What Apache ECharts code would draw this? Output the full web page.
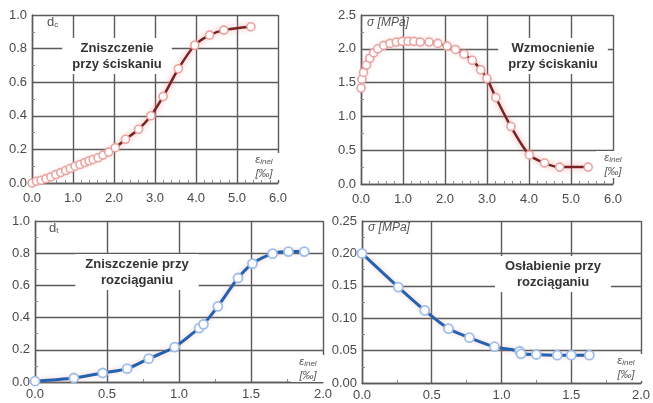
<!DOCTYPE html>
<html>
<head>
<meta charset="utf-8">
<script src="https://cdn.jsdelivr.net/npm/echarts@6/dist/echarts.min.js"></script>
<style>
  html, body { margin: 0; padding: 0; background: #fff; }
  #chart { width: 653px; height: 403px; }
</style>
</head>
<body>
<div id="chart"></div>
<script>
// dane
var dcX = [0, 0.11, 0.22, 0.34, 0.46, 0.58, 0.70, 0.82, 0.93, 1.05, 1.17, 1.29, 1.39, 1.49, 1.61, 1.73, 1.87, 2.03, 2.28, 2.6, 2.9, 3.2, 3.57, 3.97, 4.33, 4.68, 5.34];
var dcY = [0, 0.01, 0.016, 0.026, 0.036, 0.05, 0.062, 0.074, 0.086, 0.10, 0.11, 0.122, 0.132, 0.14, 0.15, 0.166, 0.184, 0.21, 0.26, 0.32, 0.40, 0.515, 0.68, 0.82, 0.88, 0.91, 0.93];

var scX = [0, 0.02, 0.06, 0.13, 0.21, 0.30, 0.40, 0.54, 0.69, 0.84, 0.98, 1.12, 1.26, 1.41, 1.62, 1.83, 2.05, 2.25, 2.45, 2.65, 2.85, 3.0, 3.21, 3.57, 4.01, 4.37, 4.73, 5.41];
var scY = [1.42, 1.55, 1.65, 1.76, 1.86, 1.94, 2.0, 2.05, 2.08, 2.1, 2.11, 2.11, 2.11, 2.1, 2.1, 2.08, 2.04, 1.99, 1.92, 1.83, 1.69, 1.56, 1.28, 0.85, 0.43, 0.31, 0.25, 0.25];

var dtX = [0, 0.27, 0.47, 0.64, 0.79, 0.97, 1.14, 1.17, 1.27, 1.41, 1.51, 1.65, 1.76, 1.87];
var dtY = [0.005, 0.025, 0.056, 0.083, 0.145, 0.217, 0.335, 0.358, 0.47, 0.646, 0.735, 0.797, 0.81, 0.81];

var stX = [0, 0.26, 0.45, 0.62, 0.77, 0.95, 1.13, 1.14, 1.25, 1.40, 1.50, 1.63];
var stY = [0.2, 0.148, 0.112, 0.084, 0.07, 0.056, 0.049, 0.045, 0.044, 0.043, 0.043, 0.043];

var topXMax = 6, topXStep = 1;
var botXMax = 2, botXStep = 0.5;

function pairs(xs, ys) {
	return xs.map(function (x, i) { return [x, ys[i]]; });
}

var chart = echarts.init(document.getElementById('chart'));

var gridColor = '#5a5a5a';
var labelColor = '#4a4a4a';
var font = '"Liberation Sans", Arial, sans-serif';

function xAxis(idx, max, step, minorN, digits, margin) {
	return {
		type: 'value', gridIndex: idx, min: 0, max: max, interval: step,
		axisLine: { lineStyle: { color: gridColor, width: 1.4 } },
		axisTick: { inside: true, length: 4, lineStyle: { color: gridColor } },
		minorTick: { show: true, splitNumber: minorN, length: 3, lineStyle: { color: '#888' } },
		splitLine: { show: true, lineStyle: { color: gridColor, width: 1.4 } },
		axisLabel: { color: labelColor, fontSize: 13, fontFamily: font, margin: margin,
			formatter: function (v) { return v.toFixed(digits); } }
	};
}

function yAxis(idx, max, step, digits) {
	return {
		type: 'value', gridIndex: idx, min: 0, max: max, interval: step,
		axisLine: { show: true, lineStyle: { color: gridColor, width: 1.4 } },
		axisTick: { show: true, inside: true, length: 4, lineStyle: { color: gridColor } },
		minorTick: { show: true, splitNumber: 2, length: 3, lineStyle: { color: '#888' } },
		splitLine: { show: true, lineStyle: { color: gridColor, width: 1.4 } },
		axisLabel: { color: labelColor, fontSize: 13, fontFamily: font, margin: 5,
			formatter: function (v) { return v.toFixed(digits); } }
	};
}

function redSeries(idx, data) {
	return {
		type: 'line', xAxisIndex: idx, yAxisIndex: idx, data: data, z: 5,
		smooth: 0.3, symbol: 'circle', symbolSize: 8,
		lineStyle: { color: '#7a2222', width: 2.5, shadowColor: 'rgba(235,130,130,0.8)', shadowBlur: 6 },
		itemStyle: { color: '#fff', borderColor: '#e9a3a0', borderWidth: 1.6 }
	};
}

function blueSeries(idx, data) {
	return {
		type: 'line', xAxisIndex: idx, yAxisIndex: idx, data: data, z: 5,
		smooth: 0.3, symbol: 'circle', symbolSize: 9,
		lineStyle: { color: '#2262b0', width: 3, shadowColor: 'rgba(235,150,150,0.5)', shadowBlur: 5 },
		itemStyle: { color: '#fff', borderColor: '#9fbde9', borderWidth: 1.8 }
	};
}

// podpisy na wykresach
function boxText(x, y, txt) {
	return {
		type: 'text', x: x, y: y, z: 1,
		style: { text: txt, fill: '#333', font: 'bold 13px ' + font, align: 'center', verticalAlign: 'top',
			lineHeight: 16, backgroundColor: '#fff', padding: [2, 10, 2, 10] }
	};
}

function epsLabel(x, y) {
	return {
		type: 'group', x: x, y: y, z: 1,
		children: [
			{ type: 'rect', z: 1, shape: { x: 0, y: 0, width: 34, height: 27 }, style: { fill: '#fff' } },
			{ type: 'text', z: 1, x: 17, y: 1, style: {
				text: '{e|ε}{s|inel}\n{p|[‰]}', align: 'center', fill: '#555',
				rich: {
					e: { fontSize: 11, fontStyle: 'italic', fontFamily: font, fill: '#555' },
					s: { fontSize: 8, fontStyle: 'italic', fontFamily: font, fill: '#555', verticalAlign: 'bottom', padding: [4, 0, 0, 0] },
					p: { fontSize: 11, fontStyle: 'italic', fontFamily: font, fill: '#555', lineHeight: 15 }
				}
			} }
		]
	};
}

function nameText(x, y, txt) {
	return { type: 'text', x: x, y: y, z: 1, style: { text: txt, fill: '#555', rich: nameRich } };
}

var nameRich = {
	i: { fontSize: 12, fontStyle: 'italic', fontFamily: font, fill: '#555' },
	d: { fontSize: 13, fontFamily: font, fill: '#555' },
	s: { fontSize: 8, fontFamily: font, fill: '#555', padding: [5, 0, 0, 0] }
};

var option = {
	backgroundColor: '#fff',
	animation: false,
	grid: [
		{ left: 32, right: 375, top: 15, bottom: 220 },
		{ left: 361, right: 40, top: 15, bottom: 219 },
		{ left: 35, right: 330, top: 221, bottom: 21 },
		{ left: 362, right: 8, top: 221, bottom: 20 }
	],
	xAxis: [
		xAxis(0, topXMax, topXStep, 5, 1, 9),
		xAxis(1, topXMax, topXStep, 5, 1, 9),
		xAxis(2, botXMax, botXStep, 2, 1, 6),
		xAxis(3, botXMax, botXStep, 2, 1, 6)
	],
	yAxis: [
		yAxis(0, 1.0, 0.2, 1),
		yAxis(1, 2.5, 0.5, 1),
		yAxis(2, 1.0, 0.2, 1),
		yAxis(3, 0.25, 0.05, 2)
	],
	series: [
		redSeries(0, pairs(dcX, dcY)),
		redSeries(1, pairs(scX, scY)),
		blueSeries(2, pairs(dtX, dtY)),
		blueSeries(3, pairs(stX, stY))
	],
	graphic: [
		boxText(117, 38, 'Zniszczenie\nprzy ściskaniu'),
		boxText(553, 38, 'Wzmocnienie\nprzy ściskaniu'),
		boxText(137, 254, 'Zniszczenie przy\nrozciąganiu'),
		boxText(553, 256, 'Osłabienie przy\nrozciąganiu'),
		epsLabel(247, 153),
		epsLabel(596, 151),
		epsLabel(291, 355),
		epsLabel(609, 354),
		nameText(47, 16, '{d|d}{s|c}'),
		nameText(367, 17, '{i|σ [MPa]}'),
		nameText(49, 222, '{d|d}{s|t}'),
		nameText(368, 222, '{i|σ [MPa]}')
	]
};

chart.setOption(option);
</script>
</body>
</html>
